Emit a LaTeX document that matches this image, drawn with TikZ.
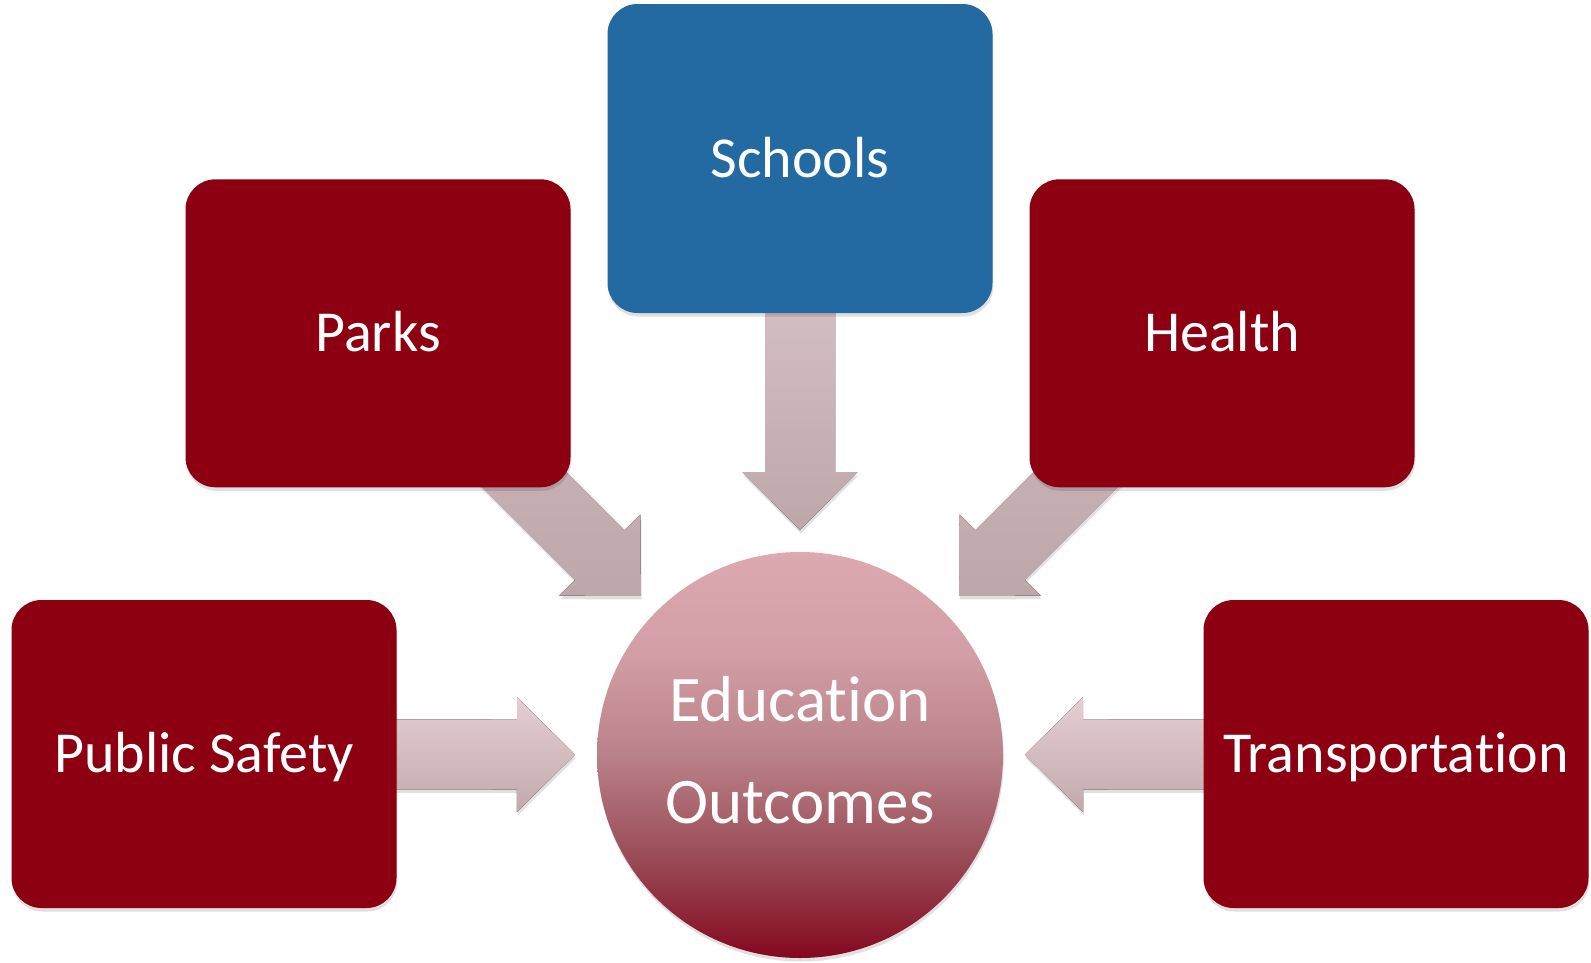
\documentclass[tikz,border=0pt]{standalone}
\usepackage{fontspec}
\setmainfont{Carlito}[Ligatures=NoCommon]
\usetikzlibrary{calc,shadows}
\definecolor{boxred}{HTML}{8C0012}
\definecolor{boxblue}{HTML}{2369A2}
\definecolor{ca}{HTML}{DCA9B0}
\definecolor{cb}{HTML}{D39EA5}
\definecolor{cc}{HTML}{BA8189}
\definecolor{cd}{HTML}{9A4C58}
\definecolor{ce}{HTML}{84081F}
\definecolor{hartop}{HTML}{E5CED3}
\definecolor{harbot}{HTML}{C2A9AE}
\definecolor{dartop}{HTML}{E0CDD0}
\definecolor{darbot}{HTML}{BEA7AB}
\definecolor{gartop}{HTML}{CFBBBF}
\definecolor{garbot}{HTML}{BEA7AB}
\pgfdeclareverticalshading{circshade}{100bp}{color(0bp)=(ce); color(25bp)=(ce); color(37.5bp)=(cd); color(50bp)=(cc); color(62.5bp)=(cb); color(75bp)=(ca); color(100bp)=(ca)}
\pgfdeclarelayer{background}
\pgfsetlayers{background,main}
\newcommand\fatarrow[3]{%
  \coordinate (t-#1) at ($(edu.center)!225pt!(#1.center)$);
  \coordinate (h-#1) at ($(t-#1)!58pt!(#1.center)$);
  \fill[#3] ($(#1.center)!35pt!90:(t-#1)$) -- ($(h-#1)!35pt!90:(t-#1)$)
    -- ($(h-#1)!57.5pt!90:(t-#1)$) -- (t-#1) -- ($(h-#1)!57.5pt!-90:(t-#1)$)
    -- ($(h-#1)!35pt!-90:(t-#1)$) -- ($(#1.center)!35pt!-90:(t-#1)$) -- cycle;
}
\tikzset{
  softshadow/.style={drop shadow={shadow xshift=0.8pt, shadow yshift=-3.5pt, opacity=0.12, fill=black}},
  boxnode/.style={rectangle, rounded corners=30pt, minimum width=385pt, minimum height=308pt,
    inner sep=0pt, text=white, font=\fontsize{58}{70}\selectfont, text height=37pt, text depth=0pt, softshadow},
  redbox/.style={boxnode, fill=boxred},
  bluebox/.style={boxnode, fill=boxblue},
  hutarrow/.style={top color=hartop, bottom color=harbot, softshadow},
  vutarrow/.style={top color=dartop, bottom color=darbot, softshadow},
  gutarrow/.style={top color=gartop, bottom color=garbot, softshadow},
}
\begin{document}
\begin{tikzpicture}[x=1pt,y=-1pt]
\useasboundingbox (0,0) rectangle (1591,962);
\node[circle, minimum size=406pt, inner sep=0pt, shading=circshade, softshadow, text=white,
  align=center, font=\fontsize{65}{102}\selectfont, text depth=11pt] (edu) at (800,755) {Education\\Outcomes};
\node[bluebox, minimum height=309pt] (schools) at (800,158.5) {Schools};
\node[redbox] (parks) at (378,333.3) {Parks};
\node[redbox] (health) at (1222,333.3) {Health};
\node[redbox] (safety) at (204,754) {Public Safety};
\node[redbox] (transport) at (1396,754) {Transportation};
\begin{pgfonlayer}{background}
\fatarrow{schools}{edu}{vutarrow}
\fatarrow{parks}{edu}{gutarrow}
\fatarrow{health}{edu}{gutarrow}
\fatarrow{safety}{edu}{hutarrow}
\fatarrow{transport}{edu}{hutarrow}
\end{pgfonlayer}
\end{tikzpicture}
\end{document}
